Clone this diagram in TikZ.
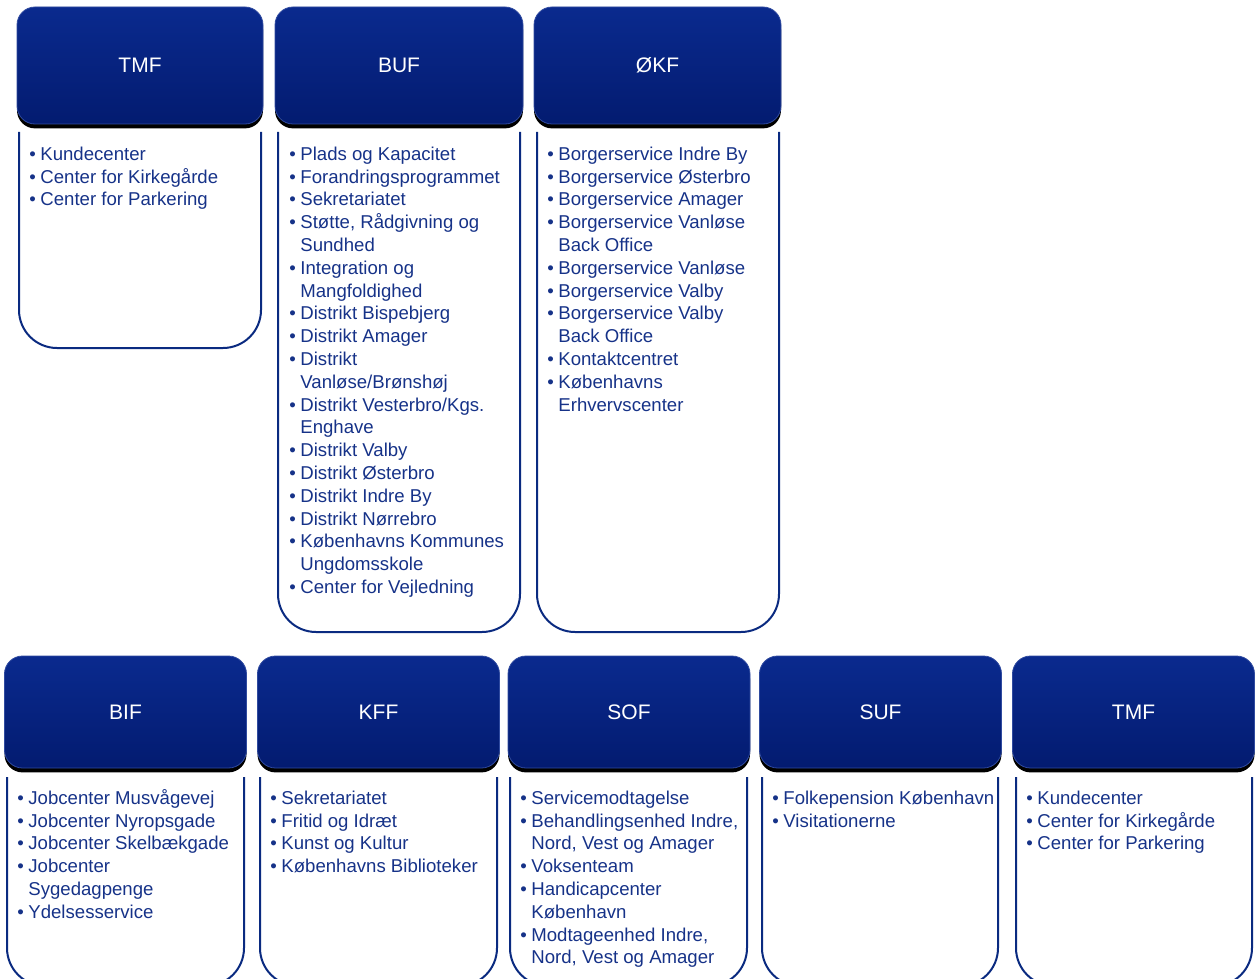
\documentclass[tikz,border=0pt]{standalone}
\usepackage{fontspec}
\setmainfont{Liberation Sans}
\usetikzlibrary{shadows}

\definecolor{hdrtop}{RGB}{10,42,142}
\definecolor{hdrbot}{RGB}{3,27,112}
\definecolor{frame}{RGB}{10,42,128}
\definecolor{itemtxt}{RGB}{22,50,136}

\newcommand{\itm}[1]{\makebox[5.5pt][l]{•}#1}
\newcommand{\cnt}[1]{\hspace*{5.5pt}#1}

\begin{document}
\begin{tikzpicture}[
  x = 0.5pt, y = -0.5pt,
  header/.style = {rounded corners = 9pt, top color = hdrtop, bottom color = hdrbot,
                   draw = hdrtop!85!white, line width = 0.4pt, text = white,
                   font = \fontsize{10.5}{12}\selectfont,
                   minimum width = 121pt, minimum height = 56pt,
                   drop shadow = {shadow xshift = 0pt, shadow yshift = -2.2pt,
                                  fill = black, opacity = 1}},
  body/.style = {draw = frame, line width = 1pt, rounded corners = 19pt},
  items/.style = {anchor = north west, inner sep = 0pt, align = left, text = itemtxt,
                  font = \fontsize{9.3}{11.4}\selectfont},
  ]
  \useasboundingbox (0,0) rectangle (1259,979);

  % top row
  \node[header, minimum width = 123pt, minimum height = 58.5pt] (tmfA) at (140,65.5) {TMF};
  \node[header, minimum width = 124pt, minimum height = 58.5pt] (buf) at (399,65.5) {BUF};
  \node[header, minimum width = 123.5pt, minimum height = 58.5pt] (okf) at (657.5,65.5) {ØKF};

  \draw[body] (19,132) -- (19,348) -- (261,348) -- (261,132);
  \draw[body] (278,132) -- (278,632) -- (520,632) -- (520,132);
  \draw[body] (537,132) -- (537,632) -- (779,632) -- (779,132);

  \node[items] (tmfAlist) at (29,144) {\strut\itm{Kundecenter}\\
    \itm{Center for Kirkegårde}\\
    \itm{Center for Parkering}};
  \node[items] (buflist) at (289,144) {\strut\itm{Plads og Kapacitet}\\
    \itm{Forandringsprogrammet}\\
    \itm{Sekretariatet}\\
    \itm{Støtte, Rådgivning og}\\
    \cnt{Sundhed}\\
    \itm{Integration og}\\
    \cnt{Mangfoldighed}\\
    \itm{Distrikt Bispebjerg}\\
    \itm{Distrikt Amager}\\
    \itm{Distrikt}\\
    \cnt{Vanløse/Brønshøj}\\
    \itm{Distrikt Vesterbro/Kgs.}\\
    \cnt{Enghave}\\
    \itm{Distrikt Valby}\\
    \itm{Distrikt Østerbro}\\
    \itm{Distrikt Indre By}\\
    \itm{Distrikt Nørrebro}\\
    \itm{Københavns Kommunes}\\
    \cnt{Ungdomsskole}\\
    \itm{Center for Vejledning}};
  \node[items] (okflist) at (547,144) {\strut\itm{Borgerservice Indre By}\\
    \itm{Borgerservice Østerbro}\\
    \itm{Borgerservice Amager}\\
    \itm{Borgerservice Vanløse}\\
    \cnt{Back Office}\\
    \itm{Borgerservice Vanløse}\\
    \itm{Borgerservice Valby}\\
    \itm{Borgerservice Valby}\\
    \cnt{Back Office}\\
    \itm{Kontaktcentret}\\
    \itm{Københavns}\\
    \cnt{Erhvervscenter}};

  % bottom row
  \node[header] (bif) at (125.5,712) {BIF};
  \node[header] (kff) at (378.5,712) {KFF};
  \node[header] (sof) at (629,712) {SOF};
  \node[header] (suf) at (880.5,712) {SUF};
  \node[header] (tmfB) at (1133.5,712) {TMF};

  \draw[body] (7,777) -- (7,986) -- (244,986) -- (244,777);
  \draw[body] (260,777) -- (260,986) -- (497,986) -- (497,777);
  \draw[body] (510,777) -- (510,986) -- (747,986) -- (747,777);
  \draw[body] (762,777) -- (762,986) -- (998,986) -- (998,777);
  \draw[body] (1016,777) -- (1016,986) -- (1252,986) -- (1252,777);

  \node[items] (biflist) at (17,788) {\strut\itm{Jobcenter Musvågevej}\\
    \itm{Jobcenter Nyropsgade}\\
    \itm{Jobcenter Skelbækgade}\\
    \itm{Jobcenter}\\
    \cnt{Sygedagpenge}\\
    \itm{Ydelsesservice}};
  \node[items] (kfflist) at (270,788) {\strut\itm{Sekretariatet}\\
    \itm{Fritid og Idræt}\\
    \itm{Kunst og Kultur}\\
    \itm{Københavns Biblioteker}};
  \node[items] (soflist) at (520,788) {\strut\itm{Servicemodtagelse}\\
    \itm{Behandlingsenhed Indre,}\\
    \cnt{Nord, Vest og Amager}\\
    \itm{Voksenteam}\\
    \itm{Handicapcenter}\\
    \cnt{København}\\
    \itm{Modtageenhed Indre,}\\
    \cnt{Nord, Vest og Amager}};
  \node[items] (suflist) at (772,788) {\strut\itm{Folkepension København}\\
    \itm{Visitationerne}};
  \node[items] (tmfBlist) at (1026,788) {\strut\itm{Kundecenter}\\
    \itm{Center for Kirkegårde}\\
    \itm{Center for Parkering}};
\end{tikzpicture}
\end{document}
